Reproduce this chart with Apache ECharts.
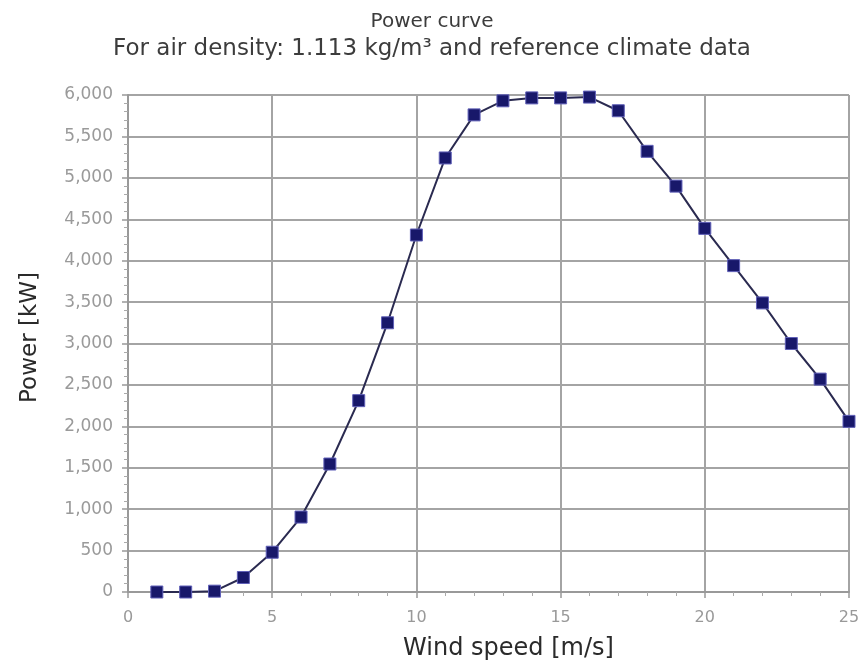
<!DOCTYPE html>
<html>
<head>
<meta charset="utf-8">
<script src="https://cdn.jsdelivr.net/npm/echarts@6/dist/echarts.min.js"></script>
<style>
  html, body { margin: 0; padding: 0; background: #ffffff; }
  #chart { width: 864px; height: 668px; }
</style>
</head>
<body>
<div id="chart"></div>
<script>
// Wind speed bins [m/s] and the turbine's power output [kW]
const windSpeed = [1, 2, 3, 4, 5, 6, 7, 8, 9, 10, 11, 12, 13, 14, 15, 16, 17, 18, 19, 20, 21, 22, 23, 24, 25];
const powerKW = [0, 0, 10, 175, 480, 905, 1545, 2310, 3250, 4310, 5240, 5760, 5930, 5965, 5965, 5975, 5810, 5320, 4900, 4390, 3940, 3490, 3000, 2570, 2060];

const titleText = 'Power curve';
const subtitleText = 'For air density: 1.113 kg/m³ and reference climate data';
const xAxisName = 'Wind speed [m/s]';
const yAxisName = 'Power [kW]';

const FONT = 'DejaVu Sans';
const points = windSpeed.map((w, i) => [w, powerKW[i]]);

const chart = echarts.init(document.getElementById('chart'), null, { renderer: 'canvas' });
chart.setOption({
  backgroundColor: '#ffffff',
  animation: false,
  title: [
    { text: titleText, left: 'center', top: 7,
      textStyle: { fontFamily: FONT, fontSize: 20, fontWeight: 'normal', color: '#3c3c3c' } },
    { text: subtitleText, left: 'center', top: 33,
      textStyle: { fontFamily: FONT, fontSize: 23, fontWeight: 'normal', color: '#3c3c3c' } }
  ],
  grid: { left: 128, right: 15, top: 95, bottom: 76, show: false },
  xAxis: {
    type: 'value', min: 0, max: 25, interval: 5,
    name: xAxisName, nameLocation: 'middle', nameGap: 45,
    nameTextStyle: { fontFamily: FONT, fontSize: 24, color: '#2a2a2a', padding: [0, 0, 0, 40] },
    axisLine: { show: true, onZero: false, lineStyle: { color: '#999', width: 2 } },
    axisTick: { show: true, inside: false, length: 6, lineStyle: { color: '#999', width: 1.5 } },
    minorTick: { show: true, splitNumber: 5, length: 4, lineStyle: { color: '#aaa' } },
    axisLabel: { fontFamily: FONT, fontSize: 16, color: '#999', margin: 18 },
    splitLine: { show: true, lineStyle: { color: '#a4a4a4', width: 2 } }
  },
  yAxis: {
    type: 'value', min: 0, max: 6000, interval: 500,
    name: yAxisName, nameLocation: 'middle', nameGap: 86, nameRotate: 90,
    nameTextStyle: { fontFamily: FONT, fontSize: 23, color: '#2a2a2a', padding: [0, 0, 0, 12] },
    axisLine: { show: true, onZero: false, lineStyle: { color: '#999', width: 2 } },
    axisTick: { show: true, inside: false, length: 6, lineStyle: { color: '#999', width: 1.5 } },
    minorTick: { show: true, splitNumber: 5, length: 4, lineStyle: { color: '#aaa' } },
    axisLabel: {
      fontFamily: FONT, fontSize: 17, color: '#9a9a9a', margin: 15,
      formatter: v => v.toLocaleString('en-US')
    },
    splitLine: { show: true, lineStyle: { color: '#a4a4a4', width: 2 } }
  },
  series: [{
    type: 'line',
    data: points,
    symbol: 'rect',
    symbolSize: 12,
    lineStyle: { color: '#2a2a50', width: 2 },
    itemStyle: { color: '#18186a', borderColor: '#6060b8', borderWidth: 1 },
    z: 5
  }]
});
</script>
</body>
</html>
